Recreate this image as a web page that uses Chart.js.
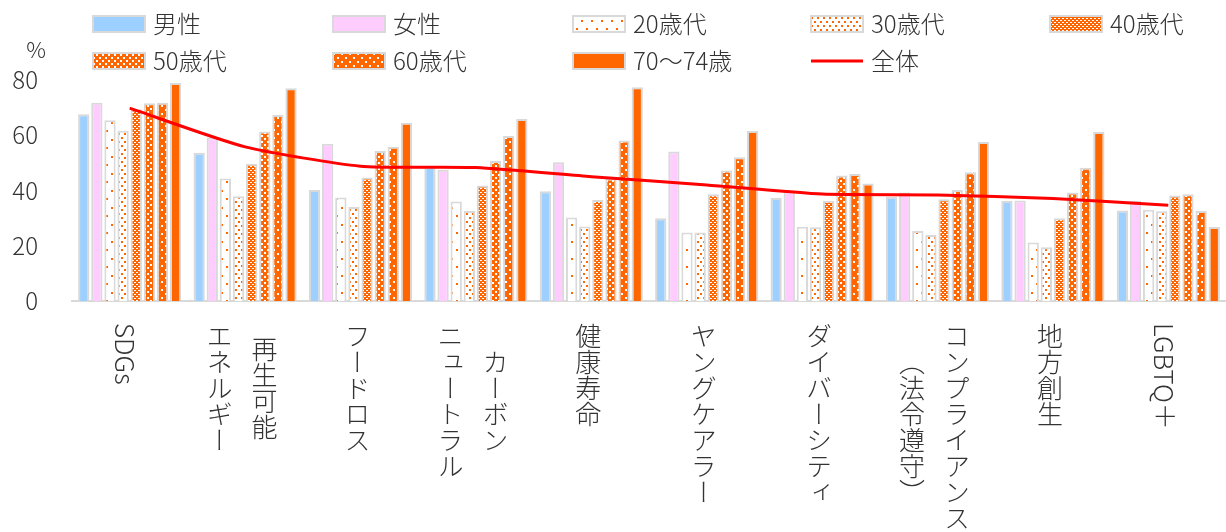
<!DOCTYPE html>
<html lang="ja">
<head>
<meta charset="utf-8">
<script src="https://cdn.jsdelivr.net/npm/chart.js@4/dist/chart.umd.min.js"></script>
<style>
  body { margin: 0; background: #fff; }
  #wrap { position: relative; width: 1226px; height: 532px; }
  .xl {
    position: absolute;
    top: 323px;
    writing-mode: vertical-rl;
    text-orientation: mixed;
    text-align: center;
    font: 300 26px "Noto Sans CJK JP", "Noto Sans", sans-serif;
    line-height: 45px;
    color: #333;
    white-space: nowrap;
    transform: translateX(-50%);
  }
</style>
</head>
<body>
<div id="wrap"><canvas id="myChart" width="1226" height="532"></canvas></div>
<script>
'use strict';
// カテゴリ（縦書き、1要素 = 1列、右の列から）
const categories = [
    ['SDGs'],
    ['再生可能', 'エネルギー'],
    ['フードロス'],
    ['カーボン', 'ニュートラル'],
    ['健康寿命'],
    ['ヤングケアラー'],
    ['ダイバーシティ'],
    ['コンプライアンス', '（法令遵守）'],
    ['地方創生'],
    ['LGBTQ＋']
];
const male      = [67.6, 53.7, 40.2, 48.7, 39.7, 30.0, 37.3, 37.7, 36.2, 32.8];
const female    = [71.8, 59.2, 56.9, 47.5, 50.2, 54.1, 39.7, 39.3, 36.4, 36.2];
const age20s    = [65.4, 44.3, 37.5, 36.0, 30.2, 24.8, 26.9, 25.3, 21.2, 33.0];
const age30s    = [61.6, 37.9, 34.0, 32.6, 27.0, 24.8, 26.7, 23.9, 19.5, 32.5];
const age40s    = [69.4, 49.7, 44.7, 41.8, 36.6, 38.6, 36.3, 36.8, 30.0, 38.2];
const age50s    = [71.6, 61.4, 54.3, 50.7, 44.3, 47.2, 45.4, 40.2, 39.3, 38.6];
const age60s    = [71.8, 67.3, 55.8, 59.7, 58.1, 52.0, 46.0, 46.6, 48.2, 32.6];
const age70to74 = [78.9, 77.0, 64.5, 65.9, 77.4, 61.5, 42.5, 57.6, 61.2, 26.8];
const overall   = [69.8, 55.8, 48.8, 48.3, 45.0, 42.0, 38.7, 38.4, 37.1, 34.7];

const FONT = '"Noto Sans CJK JP", "Noto Sans", sans-serif';
const ORANGE = '#ff6600';
const EDGE = '#d9d9d9';

function makePattern(bg, fg, w, h, dots) {
    const c = document.createElement('canvas');
    c.width = w;
    c.height = h;
    const g = c.getContext('2d');
    g.fillStyle = bg;
    g.fillRect(0, 0, w, h);
    g.fillStyle = fg;
    dots.forEach(d => g.fillRect(d[0], d[1], d[2], d[3]));
    return g.createPattern(c, 'repeat');
}

const p20 = makePattern('#fff', ORANGE, 10, 17, [[1, 3, 2, 2], [6, 11, 2, 2]]);
const p30 = makePattern('#fff', ORANGE, 6, 8, [[1, 1, 2, 2], [4, 5, 2, 2]]);
const p40 = makePattern(ORANGE, '#fff', 4, 4, [[0, 0, 2, 1], [2, 2, 2, 1]]);
const p50 = makePattern(ORANGE, '#fff', 6, 6, [[0, 0, 2, 2], [3, 3, 2, 2]]);
const p60 = makePattern(ORANGE, '#fff', 8, 8, [[1, 1, 2, 2], [5, 5, 2, 2]]);

function bar(label, data, fill) {
    return {
        type: 'bar',
        label: label,
        data: data,
        backgroundColor: fill,
        borderColor: EDGE,
        borderWidth: 2,
        order: 1,
        categoryPercentage: 0.91,
        barPercentage: 0.86
    };
}

const legendBoxes = {
    id: 'legendBoxes',
    afterDraw(chart) {
        const ctx = chart.ctx;
        const cols = [93, 333, 573, 811, 1050];
        const rows = [24, 61];
        ctx.save();
        ctx.font = '300 24px ' + FONT;
        ctx.textBaseline = 'middle';
        chart.data.datasets.forEach((ds, i) => {
            const x = cols[i % 5];
            const y = rows[Math.floor(i / 5)];
            if (ds.type === 'line') {
                ctx.strokeStyle = ds.borderColor;
                ctx.lineWidth = 3;
                ctx.beginPath();
                ctx.moveTo(x, y);
                ctx.lineTo(x + 52, y);
                ctx.stroke();
            } else {
                ctx.fillStyle = ds.backgroundColor;
                ctx.fillRect(x, y - 8, 52, 16);
                ctx.strokeStyle = EDGE;
                ctx.lineWidth = 2;
                ctx.strokeRect(x, y - 8, 52, 16);
            }
            ctx.fillStyle = '#333';
            ctx.fillText(ds.label, x + 60, y);
        });
        ctx.font = '300 22px ' + FONT;
        ctx.textAlign = 'center';
        ctx.fillText('%', 36, 50);
        ctx.restore();
    }
};

const verticalLabels = {
    id: 'verticalLabels',
    afterRender(chart) {
        const wrap = document.getElementById('wrap');
        wrap.querySelectorAll('.xl').forEach(el => el.remove());
        const xs = chart.scales.x;
        categories.forEach((lines, i) => {
            const el = document.createElement('div');
            el.className = 'xl';
            el.innerHTML = lines.join('<br>');
            el.style.left = (xs.getPixelForValue(i) - 3) + 'px';
            wrap.appendChild(el);
        });
    }
};

const ctx = document.getElementById('myChart').getContext('2d');
new Chart(ctx, {
    data: {
        labels: categories.map(c => c.join('')),
        datasets: [
            bar('男性', male, '#9dcfff'),
            bar('女性', female, '#ffccff'),
            bar('20歳代', age20s, p20),
            bar('30歳代', age30s, p30),
            bar('40歳代', age40s, p40),
            bar('50歳代', age50s, p50),
            bar('60歳代', age60s, p60),
            bar('70〜74歳', age70to74, ORANGE),
            {
                type: 'line',
                label: '全体',
                data: overall,
                borderColor: '#ff0000',
                borderWidth: 3,
                pointRadius: 0,
                tension: 0.2,
                fill: false,
                order: 0
            }
        ]
    },
    options: {
        responsive: false,
        animation: false,
        layout: { padding: { top: 80, bottom: 223, left: 0, right: 0 } },
        plugins: {
            legend: { display: false },
            tooltip: { enabled: false }
        },
        scales: {
            x: {
                grid: { display: false },
                border: { display: true, color: EDGE, width: 2 },
                ticks: { display: false }
            },
            y: {
                min: 0,
                max: 80,
                afterFit: s => { s.width = 72; },
                grid: { display: false, drawTicks: false },
                border: { display: false },
                ticks: {
                    stepSize: 20,
                    padding: 34,
                    color: '#333',
                    font: { family: FONT, size: 24, weight: '300' }
                }
            }
        }
    },
    plugins: [legendBoxes, verticalLabels]
});
</script>
</body>
</html>
